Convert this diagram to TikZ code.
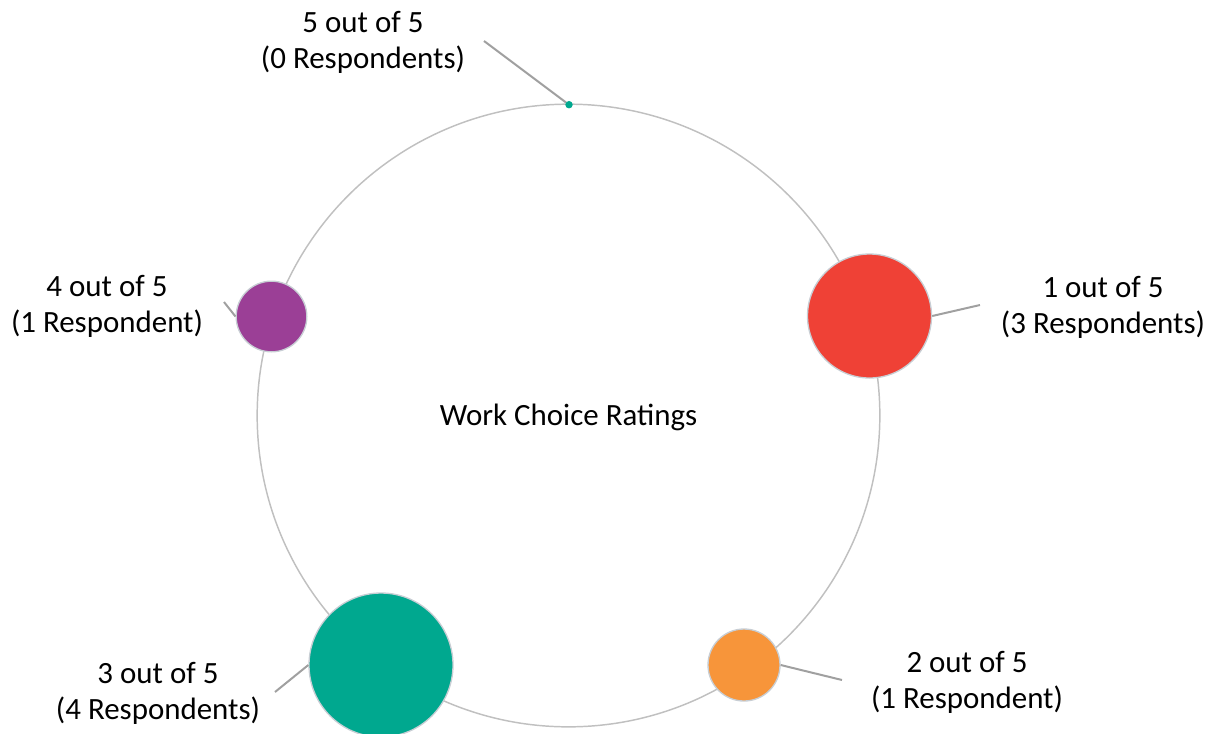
\documentclass[tikz,border=0pt]{standalone}
\usepackage{fontspec}
\setmainfont{Carlito}

\definecolor{ringgray}{RGB}{192,192,192}
\definecolor{leadgray}{RGB}{160,160,160}
\definecolor{rimgray}{RGB}{200,206,212}
\definecolor{rateone}{RGB}{239,65,54}
\definecolor{ratetwo}{RGB}{247,149,58}
\definecolor{ratethree}{RGB}{0,168,143}
\definecolor{ratefour}{RGB}{155,63,150}

\tikzset{every picture/.style={line width=0.75pt}}
\tikzset{
  bubble/.style={circle, draw=rimgray, line width=1pt, inner sep=0pt},
  leader/.style={draw=leadgray, line width=1.5pt},
  rating/.style={align=center, anchor=base, inner sep=0.75pt, font=\fontsize{23.2}{27}\selectfont},
}

\begin{document}
\begin{tikzpicture}[x=0.75pt,y=0.75pt,yscale=-1,xscale=1]
\useasboundingbox (0,0) rectangle (1220,733);

%Shape: Circle [ring]
\node (ring) [circle, draw=ringgray, line width=1.1pt, minimum size=467pt, inner sep=0pt] at (568.5,415.5) {};
% Text Node
\node (title) [rating] at (568.5,425) {Work Choice Ratings};

%Shape: Circle [bubbles]
\node (five) [bubble, fill=ratethree, draw=ratethree, minimum size=4.5pt] at (569,104.7) {};
\node (one) [bubble, fill=rateone, minimum size=93pt] at (869.5,316) {};
\node (two) [bubble, fill=ratetwo, minimum size=54pt] at (744,665) {};
\node (three) [bubble, fill=ratethree, minimum size=108pt] at (381,665) {};
\node (four) [bubble, fill=ratefour, minimum size=53pt] at (271.5,316.5) {};

%Straight Lines [leaders]
\coordinate (fiveend) at (484,41);
\coordinate (oneend) at (980,305);
\coordinate (twoend) at (842,680);
\coordinate (threeend) at (275,692);
\coordinate (fourend) at (224,302);
\draw [leader] (five) -- (fiveend);
\draw [leader] (one.east) -- (oneend);
\draw [leader] (two.east) -- (twoend);
\draw [leader] (three.west) -- (threeend);
\draw [leader] (four.west) -- (fourend);

% Text Node
\node (fivelabel) [rating] at (363,68) {5 out of 5\\(0 Respondents)};
% Text Node
\node (onelabel) [rating] at (1103,333) {1 out of 5\\(3 Respondents)};
% Text Node
\node (twolabel) [rating] at (967,708) {2 out of 5\\(1 Respondent)};
% Text Node
\node (threelabel) [rating] at (158,719) {3 out of 5\\(4 Respondents)};
% Text Node
\node (fourlabel) [rating] at (107,332) {4 out of 5\\(1 Respondent)};

\end{tikzpicture}
\end{document}
